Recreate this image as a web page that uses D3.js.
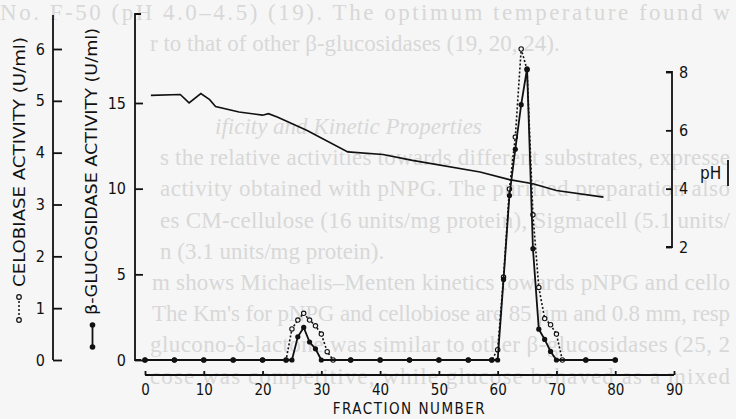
<!DOCTYPE html>
<html>
<head>
<meta charset="utf-8">
<script src="https://cdnjs.cloudflare.com/ajax/libs/d3/7.8.5/d3.min.js"></script>
<style>
  body { margin: 0; background: #f6f6f6; }
  svg { display: block; }
  .lbl { font-family: "DejaVu Sans Condensed", "DejaVu Sans", sans-serif; font-stretch: condensed; fill: #111; }
  .page { font-family: "Liberation Serif", "DejaVu Serif", serif; font-size: 23px; fill: #d8d8d8; }
</style>
</head>
<body>
<svg width="736" height="419"></svg>
<script>
// fraction numbers and activities (U/ml)
var glucFractions = [0, 5, 10, 15, 20, 24, 25, 26, 27, 28, 29, 30, 35, 40, 45, 50, 55, 59,
                     60, 61, 62, 63, 64, 65, 66, 67, 68, 69, 70, 75, 80];
var glucosidase   = [0, 0, 0, 0, 0, 0, 0, 1.35, 1.9, 1.05, 0.65, 0, 0, 0, 0, 0, 0, 0,
                     0, 4.7, 9.6, 12.3, 14.9, 17.0, 6.5, 1.8, 1.2, 0.5, 0, 0, 0];

var celloFractions = [0, 5, 10, 15, 20, 24, 25, 26, 27, 28, 29, 30, 31, 32, 35, 40, 45, 50, 55, 59,
                      60, 61, 62, 63, 64, 65, 66, 67, 68, 69, 70, 71, 75, 80];
var cellobiase     = [0, 0, 0, 0, 0, 0, 0.6, 0.77, 0.9, 0.77, 0.66, 0.5, 0.16, 0, 0, 0, 0, 0, 0, 0,
                      0.2, 1.6, 3.3, 4.3, 6.0, 5.6, 2.8, 1.4, 0.8, 0.68, 0.5, 0, 0, 0];

var phFractions = [1, 6, 7.5, 9.5, 11, 12, 16, 20, 21, 22.5, 27.5, 34.5, 40.5, 45.5, 57, 62, 66, 70, 78];
var phValues    = [7.2, 7.23, 6.94, 7.26, 7.05, 6.82, 6.63, 6.52, 6.57, 6.46, 6.0, 5.26, 5.17, 4.97,
                   4.57, 4.31, 4.17, 3.94, 3.71];

var xTicks = [0, 10, 20, 30, 40, 50, 60, 70, 80, 90];
var celloTicks = [0, 1, 2, 3, 4, 5, 6];
var glucTicks = [0, 5, 10, 15];
var phTicks = [2, 4, 6, 8];

// the printed page that shows through behind the figure
var pageLines = [
  "No. F-50 (pH 4.0–4.5) (19). The optimum temperature found w",
  "r to that of other β-glucosidases (19, 20, 24).",
  "ificity and Kinetic Properties",
  "s the relative activities towards different substrates, expresse",
  "activity obtained with pNPG. The purified preparation also",
  "es CM-cellulose (16 units/mg protein), Sigmacell (5.1 units/",
  "n (3.1 units/mg protein).",
  "m shows Michaelis–Menten kinetics towards pNPG and cello",
  "The Km's for pNPG and cellobiose are 85 µm and 0.8 mm, resp",
  "glucono-δ-lactone was similar to other β-glucosidases (25, 2",
  "cose was competitive, while glucose behaved as a mixed"
];

var svg = d3.select("svg");
svg.append("rect").attr("width", 736).attr("height", 419).attr("fill", "#f6f6f6");

var pageX = [0, 150, 215, 160, 160, 160, 160, 152, 152, 150, 150];
var pageW = [730, 0, 0, 570, 570, 570, 0, 578, 578, 580, 580];
svg.append("g").selectAll("text")
  .data(pageLines)
  .enter().append("text")
  .attr("class", "page")
  .attr("x", function (d, i) { return pageX[i]; })
  .attr("y", function (d, i) { return i < 2 ? 20 + i * 31 : 134 + (i - 2) * 31.2; })
  .attr("textLength", function (d, i) { return pageW[i] || null; })
  .attr("lengthAdjust", "spacing")
  .style("font-style", function (d, i) { return i == 2 ? "italic" : null; })
  .text(function (d) { return d; });

var x = d3.scaleLinear().domain([0, 90]).range([145, 674]);
var yG = d3.scaleLinear().domain([0, 15]).range([360, 103]);
var yC = d3.scaleLinear().domain([0, 6]).range([360, 49]);
var yP = d3.scaleLinear().domain([2, 8]).range([247, 72]);

var ink = "#111";
var fmt = d3.format("d");

// cellobiase axis (far left)
var gC = svg.append("g").attr("class", "lbl").attr("transform", "translate(53,0)");
gC.call(d3.axisLeft(yC).tickValues(celloTicks).tickFormat(fmt).tickSizeInner(-9).tickSizeOuter(0).tickPadding(8));
gC.select(".domain").remove();
gC.append("line").attr("y1", 15).attr("y2", 360).attr("stroke", ink).attr("stroke-width", 1.8);

// beta-glucosidase axis
var gG = svg.append("g").attr("class", "lbl").attr("transform", "translate(135,0)");
gG.call(d3.axisLeft(yG).tickValues(glucTicks).tickFormat(fmt).tickSizeInner(-8).tickSizeOuter(0).tickPadding(9));
gG.select(".domain").remove();
gG.append("path").attr("d", "M6,14H0V360H6").attr("fill", "none").attr("stroke", ink).attr("stroke-width", 1.8);

// pH axis (right)
var gP = svg.append("g").attr("class", "lbl").attr("transform", "translate(672,0)");
gP.call(d3.axisRight(yP).tickValues(phTicks).tickFormat(fmt).tickSizeInner(-6).tickSizeOuter(0).tickPadding(7));
gP.select(".domain").remove();
gP.append("path").attr("d", "M-6,72H0V247H-6").attr("fill", "none").attr("stroke", ink).attr("stroke-width", 1.8);

// fraction axis
var gX = svg.append("g").attr("class", "lbl").attr("transform", "translate(0,375)");
gX.call(d3.axisBottom(x).tickValues(xTicks).tickFormat(fmt).tickSizeInner(-4).tickSizeOuter(0).tickPadding(9));
gX.select(".domain").remove();
gX.append("line").attr("x1", x(0)).attr("x2", x(90)).attr("stroke", ink).attr("stroke-width", 1.8);

svg.selectAll(".lbl .tick line").attr("stroke", ink).attr("stroke-width", 1.8);
svg.selectAll(".lbl .tick text").attr("fill", ink).style("font-size", "16px");
gX.selectAll(".tick text").style("font-size", "15px");

// axis titles
svg.append("text").attr("class", "lbl")
  .attr("transform", "translate(25,287) rotate(-90)")
  .attr("textLength", 250).attr("lengthAdjust", "spacingAndGlyphs")
  .style("font-size", "16px")
  .text("CELOBIASE ACTIVITY (U/ml)");
svg.append("text").attr("class", "lbl")
  .attr("transform", "translate(97,315) rotate(-90)")
  .attr("textLength", 287).attr("lengthAdjust", "spacingAndGlyphs")
  .style("font-size", "16px")
  .text("β-GLUCOSIDASE ACTIVITY (U/ml)");
svg.append("text").attr("class", "lbl")
  .attr("x", x(45)).attr("y", 414).attr("text-anchor", "middle")
  .style("font-size", "15px").style("letter-spacing", "1.5px")
  .text("FRACTION NUMBER");
svg.append("text").attr("class", "lbl")
  .attr("x", 700).attr("y", 179)
  .style("font-size", "17px")
  .text("pH");
svg.append("line").attr("x1", 728).attr("x2", 728).attr("y1", 160).attr("y2", 186)
  .attr("stroke", ink).attr("stroke-width", 1.8);

// legend glyphs next to the titles
svg.append("line").attr("x1", 19).attr("x2", 19).attr("y1", 297).attr("y2", 320)
  .attr("stroke", ink).attr("stroke-width", 1.5).attr("stroke-dasharray", "2,2");
svg.selectAll(".legC").data([297, 320]).enter().append("circle")
  .attr("cx", 19).attr("cy", function (d) { return d; }).attr("r", 2.3)
  .attr("fill", "#f6f6f6").attr("stroke", ink).attr("stroke-width", 1.2);
svg.append("line").attr("x1", 92.5).attr("x2", 92.5).attr("y1", 325).attr("y2", 347)
  .attr("stroke", ink).attr("stroke-width", 1.8);
svg.selectAll(".legG").data([325, 347]).enter().append("circle")
  .attr("cx", 92.5).attr("cy", function (d) { return d; }).attr("r", 2.8).attr("fill", ink);

// pH trace
var phData = phFractions.map(function (f, i) { return { f: f, v: phValues[i] }; });
svg.append("path").datum(phData)
  .attr("fill", "none").attr("stroke", ink).attr("stroke-width", 1.6)
  .attr("d", d3.line().x(function (d) { return x(d.f); }).y(function (d) { return yP(d.v); }));

// cellobiase (dotted, open circles)
var celloData = celloFractions.map(function (f, i) { return { f: f, v: cellobiase[i] }; });
svg.append("path").datum(celloData)
  .attr("fill", "none").attr("stroke", ink).attr("stroke-width", 1.6).attr("stroke-dasharray", "2,2")
  .attr("d", d3.line().x(function (d) { return x(d.f); }).y(function (d) { return yC(d.v); }));
svg.selectAll(".ptC").data(celloData).enter().append("circle")
  .attr("cx", function (d) { return x(d.f); }).attr("cy", function (d) { return yC(d.v); })
  .attr("r", 2.2).attr("fill", "#f6f6f6").attr("stroke", ink).attr("stroke-width", 1.1);

// beta-glucosidase (solid, filled dots)
var glucData = glucFractions.map(function (f, i) { return { f: f, v: glucosidase[i] }; });
svg.append("path").datum(glucData)
  .attr("fill", "none").attr("stroke", ink).attr("stroke-width", 1.8)
  .attr("d", d3.line().x(function (d) { return x(d.f); }).y(function (d) { return yG(d.v); }));
svg.selectAll(".ptG").data(glucData).enter().append("circle")
  .attr("cx", function (d) { return x(d.f); }).attr("cy", function (d) { return yG(d.v); })
  .attr("r", 2.6).attr("fill", ink);
</script>
</body>
</html>
